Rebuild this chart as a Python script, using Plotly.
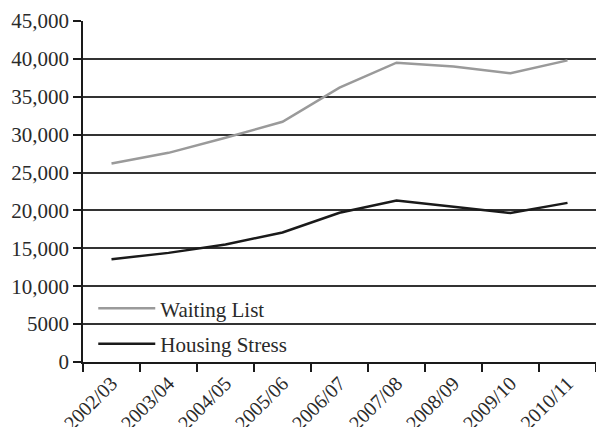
import plotly.graph_objects as go

years = ["2002/03", "2003/04", "2004/05", "2005/06", "2006/07",
         "2007/08", "2008/09", "2009/10", "2010/11"]
waiting_list = [26200, 27600, 29600, 31700, 36200, 39500, 39000, 38100, 39800]
housing_stress = [13550, 14400, 15500, 17100, 19700, 21300, 20500, 19650, 21000]

y_tickvals = [0, 5000, 10000, 15000, 20000, 25000, 30000, 35000, 40000, 45000]
y_ticktext = ["0", "5000", "10,000", "15,000", "20,000", "25,000",
              "30,000", "35,000", "40,000", "45,000"]

FONT = "Liberation Serif"

fig = go.Figure()
fig.add_trace(go.Scatter(x=years, y=waiting_list, name="Waiting List",
                         mode="lines", legendgroup="a",
                         line=dict(color="#9a9a9a", width=2.5)))
fig.add_trace(go.Scatter(x=years, y=housing_stress, name="Housing Stress",
                         mode="lines", legendgroup="b",
                         line=dict(color="#1a1a1a", width=2.5)))

fig.update_layout(
    width=596, height=427,
    margin=dict(l=83, r=0, t=21, b=65, autoexpand=False),
    paper_bgcolor="white", plot_bgcolor="white",
    font=dict(family=FONT, size=21, color="#2a2a2a"),
    showlegend=True,
    legend=dict(x=0.02, y=0.105, xanchor="left", yanchor="middle",
                bgcolor="rgba(0,0,0,0)", tracegroupgap=5, itemwidth=57,
                font=dict(family=FONT, size=21, color="#2a2a2a")),
    xaxis=dict(type="category", range=[-0.5, 8.5], tickson="boundaries",
               ticks="outside", ticklen=8, tickwidth=1.5, tickcolor="#1a1a1a",
               tickangle=-45, showgrid=False, showline=True,
               linecolor="#1a1a1a", linewidth=1.5,
               tickfont=dict(family=FONT, size=20)),
    yaxis=dict(range=[0, 45000], tickvals=y_tickvals, ticktext=y_ticktext,
               ticks="outside", ticklen=8, tickwidth=1.5, tickcolor="#1a1a1a",
               showgrid=True, gridcolor="#333333", gridwidth=1.5,
               showline=True, linecolor="#1a1a1a", linewidth=1.5,
               zeroline=False,
               tickfont=dict(family=FONT, size=21)),
)

fig.write_html("out.html")
